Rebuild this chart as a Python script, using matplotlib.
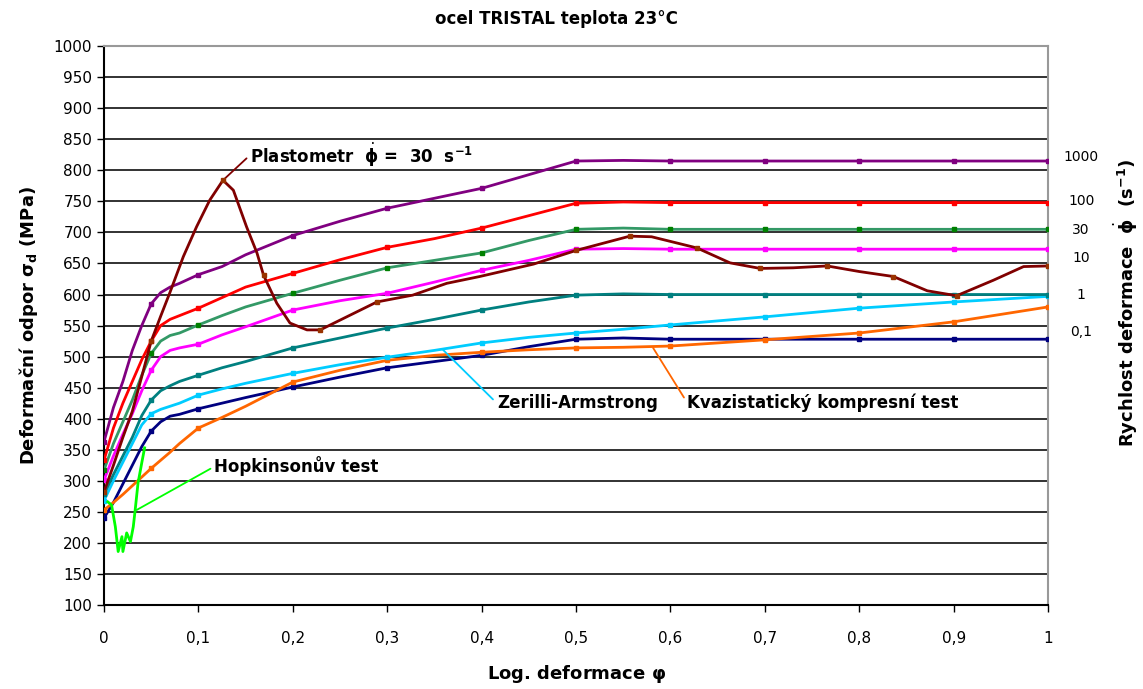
import matplotlib
matplotlib.use('Agg')
import matplotlib.pyplot as plt
from matplotlib.ticker import FuncFormatter, MultipleLocator

plt.rcParams['font.family'] = ['DejaVu Sans']
plt.rcParams['mathtext.fontset'] = 'dejavusans'

# logaritmicka deformace
phi = [0, 0.01, 0.02, 0.03, 0.04, 0.05, 0.06, 0.07, 0.08, 0.1, 0.125, 0.15, 0.2,
       0.25, 0.3, 0.35, 0.4, 0.45, 0.5, 0.55, 0.6, 0.7, 0.8, 0.9, 1.0]

# deformacni odpor pro ruzne rychlosti deformace (MPa)
s_1000 = [363, 418, 460, 510, 550, 585, 603, 612, 618, 632, 645, 664, 695,
          718, 739, 755, 771, 793, 815, 816, 815, 815, 815, 815, 815]
s_100 = [333, 385, 425, 460, 495, 525, 550, 560, 566, 578, 595, 612, 634,
         656, 676, 690, 707, 727, 747, 749, 748, 748, 748, 748, 748]
s_30 = [317, 360, 395, 430, 470, 505, 525, 534, 538, 551, 566, 580, 602,
        623, 643, 655, 667, 687, 705, 707, 705, 705, 705, 705, 705]
s_10 = [301, 340, 375, 408, 445, 478, 500, 510, 514, 520, 535, 548, 575,
        590, 602, 620, 639, 655, 673, 674, 673, 673, 673, 673, 673]
s_1 = [278, 310, 340, 370, 405, 430, 445, 453, 460, 470, 482, 492, 514,
       530, 546, 560, 575, 588, 599, 601, 600, 600, 600, 600, 600]
s_za = [268, 300, 330, 360, 390, 408, 415, 420, 425, 438, 448, 457, 473,
        487, 499, 510, 522, 531, 538, 544, 551, 564, 578, 588, 597]
s_01 = [240, 265, 295, 325, 355, 380, 395, 404, 407, 416, 425, 434, 451,
        467, 482, 492, 502, 516, 528, 530, 528, 528, 528, 528, 528]
s_kv = [253, 265, 278, 292, 306, 320, 333, 346, 360, 385, 402, 420, 459,
        478, 494, 502, 507, 511, 514, 515, 517, 527, 538, 556, 580]

# plastometr 30 s-1
phi_pl = [0, 0.01, 0.02, 0.03, 0.04, 0.05, 0.06, 0.07, 0.084, 0.098, 0.112, 0.126,
          0.137, 0.151, 0.162, 0.169, 0.183, 0.197, 0.215, 0.229, 0.257, 0.289,
          0.327, 0.363, 0.398, 0.455, 0.5, 0.557, 0.58, 0.628, 0.663, 0.695, 0.73,
          0.766, 0.8, 0.836, 0.872, 0.903, 0.942, 0.974, 1.0]
s_pl = [282, 325, 370, 412, 468, 525, 565, 604, 661, 709, 752, 784,
        768, 709, 667, 631, 586, 554, 543, 543, 564, 588,
        599, 618, 629, 649, 671, 694, 693, 675, 651, 642, 643,
        646, 637, 629, 606, 598, 623, 645, 646]

# Hopkinsonuv test
phi_hop = [0.004, 0.008, 0.012, 0.015, 0.019, 0.02, 0.024, 0.028, 0.031, 0.033,
           0.036, 0.04, 0.043]
s_hop = [266, 261, 226, 186, 210, 186, 216, 202, 226, 253, 296, 329, 353]

rate_labels = ['1000', '100', '30', '10', '1', '0,1']
rate_label_y = [821, 750, 704, 659, 599, 540]

fig = plt.figure(figsize=(11.43, 6.89), dpi=100)
ax = fig.add_axes([0.091, 0.122, 0.826, 0.811])

mk = [0, 5, 9, 12, 14, 16, 18, 20, 21, 22, 23, 24]
series = [
    (s_01, '#000080', '#000080'),
    (s_kv, '#FF6600', '#FF6600'),
    (s_za, '#00CCFF', '#00CCFF'),
    (s_1, '#008080', '#008080'),
    (s_10, '#FF00FF', '#FF00FF'),
    (s_30, '#339966', '#008000'),
    (s_100, '#FF0000', '#FF0000'),
    (s_1000, '#800080', '#800080'),
]
for vals, col, mcol in series:
    ax.plot(phi, vals, color=col, lw=2, marker='s', ms=3.5, mfc=mcol, mec=mcol,
            markevery=mk, zorder=3)

ax.plot(phi_pl, s_pl, color='#800000', lw=2, marker='s', ms=3.5, mfc='#993300',
        mec='#993300', markevery=[0, 5, 11, 15, 19, 21, 26, 27, 29, 31, 33, 35, 37, 40],
        zorder=4)
ax.plot(phi_hop, s_hop, color='#00FF00', lw=2, zorder=5)

# popisky s odkazovymi carami
bold = dict(fontsize=12, fontweight='bold', va='center', ha='left')


def leader(col):
    return dict(arrowstyle='-', color=col, lw=1.3, shrinkA=1, shrinkB=0,
                relpos=(0, 0.5))


ax.annotate(r'Plastometr  $\dot{\mathbf{\phi}}$ =  30  s$^{\mathbf{-1}}$',
            xy=(0.126, 784), xytext=(0.155, 825), arrowprops=leader('#800000'), **bold)
ax.annotate('Hopkinsonův test', xy=(0.0346, 253), xytext=(0.117, 323),
            arrowprops=leader('#00FF00'), **bold)
ax.annotate('Zerilli-Armstrong', xy=(0.359, 511), xytext=(0.416, 425),
            arrowprops=leader('#00CCFF'), **bold)
ax.annotate('Kvazistatický kompresní test', xy=(0.5816, 514), xytext=(0.618, 425),
            arrowprops=leader('#FF6600'), **bold)

for lab, yv in zip(rate_labels, rate_label_y):
    ax.text(1.035, yv, lab, fontsize=10, ha='center', va='center', clip_on=False)

ax.set_xlim(0, 1)
ax.set_ylim(100, 1000)
ax.xaxis.set_major_locator(MultipleLocator(0.1))
ax.yaxis.set_major_locator(MultipleLocator(50))
ax.xaxis.set_major_formatter(FuncFormatter(lambda v, p: ('%g' % round(v, 1)).replace('.', ',')))
ax.grid(axis='y', color='#222222', lw=1.3)
ax.set_axisbelow(True)
ax.tick_params(direction='out', length=5, labelsize=11, width=1)
ax.tick_params(axis='x', pad=14)
for side in ['top', 'right']:
    ax.spines[side].set_color('#999999')
    ax.spines[side].set_linewidth(1.5)
ax.spines['left'].set_linewidth(1.5)
ax.spines['bottom'].set_linewidth(1.5)

ax.set_xlabel(r'Log. deformace $\mathbf{\varphi}$', fontsize=13, fontweight='bold', labelpad=12)
ax.set_ylabel(r'Deformační odpor $\mathbf{\sigma_d}$ (MPa)', fontsize=13, fontweight='bold', labelpad=10)
fig.text(0.487, 0.972, 'ocel TRISTAL teplota 23°C', fontsize=12, fontweight='bold',
         ha='center', va='center')
fig.text(0.985, 0.56, r'Rychlost deformace  $\dot{\mathbf{\phi}}$  (s$^{\mathbf{-1}}$)',
         fontsize=13, fontweight='bold', rotation=90, ha='center', va='center')

fig.savefig('out.png', dpi=100)
